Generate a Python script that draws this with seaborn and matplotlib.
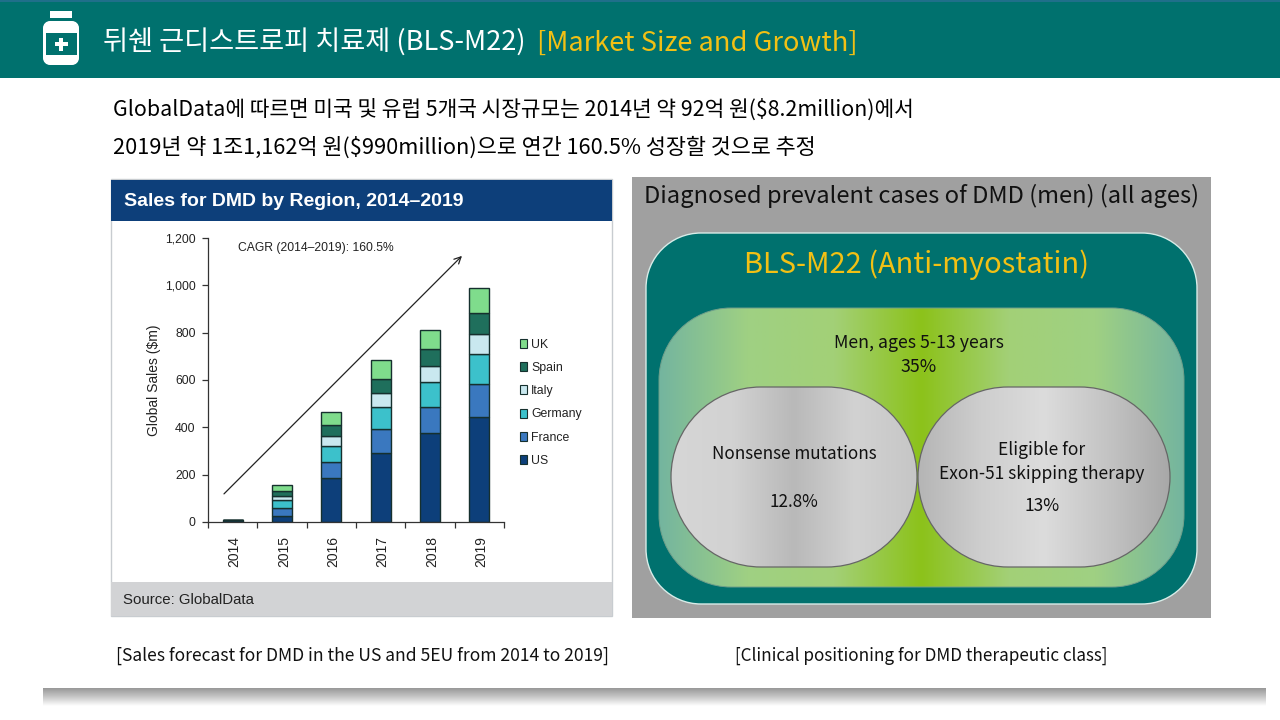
import matplotlib
matplotlib.use("Agg")
import matplotlib.pyplot as plt
import numpy as np
import pandas as pd
import seaborn as sb
from matplotlib.colors import LinearSegmentedColormap
from matplotlib.patches import Patch, PathPatch, Rectangle
from matplotlib.path import Path
from matplotlib.transforms import ScaledTranslation

years = ["2014", "2015", "2016", "2017", "2018", "2019"]
regions = ["US", "France", "Germany", "Italy", "Spain", "UK"]
us = [8, 27, 185, 293, 378, 444]
france = [0, 34, 69, 98, 110, 137]
germany = [0, 32, 69, 93, 104, 130]
italy = [0, 17, 42, 62, 69, 82]
spain = [0, 20, 44, 60, 69, 90]
uk = [0, 27, 56, 77, 82, 105]
region_colors = ["#0d3f7a", "#3a78bf", "#3cc1cb", "#c9e8ef", "#1f6f5c", "#7fdc8c"]

KR = ["Noto Sans CJK KR", "DejaVu Sans"]
ARIAL = ["Liberation Sans", "DejaVu Sans"]
TEAL = "#00716e"
GOLD = "#f2c014"

sb.set_theme(style="white")
plt.rcParams["font.family"] = KR

fig = plt.figure(figsize=(12.8, 7.2), dpi=100, facecolor="white")


def px_axes(x0, y0, x1, y1):
    # axes placed with picture pixels, y counted from the top
    return fig.add_axes([x0 / 1280, 1 - y1 / 720, (x1 - x0) / 1280, (y1 - y0) / 720])


bg = px_axes(0, 0, 1280, 720)
bg.set_xlim(0, 1280)
bg.set_ylim(720, 0)
bg.axis("off")


def rounded(x0, y0, x1, y1, r, **kw):
    # true circular corners, FancyBboxPatch corners come out too square
    k = r * (1 - 0.5523)
    verts = [(x0 + r, y0), (x1 - r, y0),
             (x1 - k, y0), (x1, y0 + k), (x1, y0 + r),
             (x1, y1 - r),
             (x1, y1 - k), (x1 - k, y1), (x1 - r, y1),
             (x0 + r, y1),
             (x0 + k, y1), (x0, y1 - k), (x0, y1 - r),
             (x0, y0 + r),
             (x0, y0 + k), (x0 + k, y0), (x0 + r, y0),
             (x0 + r, y0)]
    codes = [Path.MOVETO, Path.LINETO,
             Path.CURVE4, Path.CURVE4, Path.CURVE4,
             Path.LINETO,
             Path.CURVE4, Path.CURVE4, Path.CURVE4,
             Path.LINETO,
             Path.CURVE4, Path.CURVE4, Path.CURVE4,
             Path.LINETO,
             Path.CURVE4, Path.CURVE4, Path.CURVE4,
             Path.CLOSEPOLY]
    p = PathPatch(Path(verts, codes), **kw)
    bg.add_patch(p)
    return p


def h_gradient(x0, y0, x1, y1, r, colors, edge, lw=0.9):
    cmap = LinearSegmentedColormap.from_list("g", colors)
    im = bg.imshow(np.linspace(0, 1, 256).reshape(1, -1), cmap=cmap, aspect="auto",
                   extent=(x0, x1, y1, y0), zorder=3)
    p = rounded(x0, y0, x1, y1, r, fc="none", ec=edge, lw=lw, zorder=4)
    im.set_clip_path(p)


# header
bg.add_patch(Rectangle((0, 0), 1280, 78, fc=TEAL, ec="none"))
bg.add_patch(Rectangle((0, 0), 1280, 1.5, fc="#1f6f8a", ec="none"))
# bottle icon
bg.add_patch(Rectangle((50, 11), 22, 7, fc="white", ec="none"))
rounded(43, 21, 79, 65, 7, fc="white", ec="none")
bg.add_patch(Rectangle((45.5, 33), 31, 22, fc=TEAL, ec="none"))
bg.add_patch(Rectangle((54.5, 42), 13, 4, fc="white", ec="none"))
bg.add_patch(Rectangle((59, 37.5), 4, 13, fc="white", ec="none"))
bg.text(103, 43, "뒤쉔 근디스트로피 치료제 (BLS-M22)", color="white", fontsize=19.6, va="center", ha="left")
bg.text(537, 43, "[Market Size and Growth]", color=GOLD, fontsize=19.6, va="center", ha="left")

# intro lines
bg.text(113, 110, "GlobalData에 따르면 미국 및 유럽 5개국 시장규모는 2014년 약 92억 원($8.2million)에서",
        color="black", fontsize=15.4, va="center", ha="left")
bg.text(113, 148, "2019년 약 1조1,162억 원($990million)으로 연간 160.5% 성장할 것으로 추정",
        color="black", fontsize=15.7, va="center", ha="left")

# left picture frame
bg.add_patch(Rectangle((111, 179), 501, 437, fc="white", ec="#c8ccd0", lw=1))
bg.add_patch(Rectangle((111, 180), 501, 41, fc="#0d3f7a", ec="none"))
bg.add_patch(Rectangle((111, 582), 501, 34, fc="#d2d3d5", ec="none"))
bg.text(124, 201, "Sales for DMD by Region, 2014–2019", color="white", fontsize=14,
        fontweight="bold", family=ARIAL, va="center", ha="left")
bg.text(123, 600, "Source: GlobalData", color="#222222", fontsize=10.8, family=ARIAL,
        va="center", ha="left")

# right panel
bg.add_patch(Rectangle((632, 177), 579, 441, fc="#a0a0a0", ec="none"))
bg.text(921, 196, "Diagnosed prevalent cases of DMD (men) (all ages)", color="#111111",
        fontsize=17.1, va="center", ha="center")
rounded(646, 233, 1197, 604, 55, fc=TEAL, ec="#d8ece8", lw=1, zorder=2)
bg.text(917, 265, "BLS-M22 (Anti-myostatin)", color=GOLD, fontsize=20.9, va="center", ha="center", zorder=6)
h_gradient(659, 308, 1184, 587, 72,
           ["#74b59f", "#9fd083", "#a3d077", "#8cc21a", "#a3d077", "#9fd083", "#74b59f"], "#6f9f8a", lw=0.7)
h_gradient(671, 387, 917, 567, 90,
           ["#d6d6d6", "#d2d2d2", "#b9b9b9", "#d2d2d2", "#c6c6c6"], "#666666")
h_gradient(918, 387, 1170, 567, 90,
           ["#b5b5b5", "#cecece", "#dcdcdc", "#c4c4c4", "#a8a8a8"], "#666666")
inner = dict(color="#111111", va="center", ha="center", zorder=6)
bg.text(919, 343, "Men, ages 5-13 years", fontsize=12.8, **inner)
bg.text(919, 367, "35%", fontsize=12.8, **inner)
bg.text(794, 454, "Nonsense mutations", fontsize=12.3, **inner)
bg.text(794, 502, "12.8%", fontsize=12.3, **inner)
bg.text(1042, 450, "Eligible for", fontsize=12.5, **inner)
bg.text(1042, 474, "Exon-51 skipping therapy", fontsize=12.5, **inner)
bg.text(1042, 506, "13%", fontsize=12.5, **inner)

# captions
bg.text(362, 656, "[Sales forecast for DMD in the US and 5EU from 2014 to 2019]", color="#111111",
        fontsize=12.6, va="center", ha="center")
bg.text(921, 656, "[Clinical positioning for DMD therapeutic class]", color="#111111",
        fontsize=12.3, va="center", ha="center")

# bottom bar
cmap = LinearSegmentedColormap.from_list("b", ["#989898", "#c8c8c8", "#ffffff"])
bg.imshow(np.linspace(0, 1, 64).reshape(-1, 1), cmap=cmap, aspect="auto", extent=(43, 1266, 706, 688))
bg.set_xlim(0, 1280)
bg.set_ylim(720, 0)

# stacked bars
ax = px_axes(208, 238, 504, 522)
ax.patch.set_alpha(0)
series = [us, france, germany, italy, spain, uk]
bottom = np.zeros(len(years))
for name, vals, col in zip(regions, series, region_colors):
    df = pd.DataFrame({"year": years, "sales": vals})
    sb.barplot(data=df, x="year", y="sales", color=col, width=0.41, bottom=bottom, saturation=1,
               edgecolor="#16302e", linewidth=1, ax=ax)
    bottom = bottom + np.array(vals)

ax.set_xlim(-0.5, 5.5)
ax.set_ylim(0, 1200)
ax.set_yticks(range(0, 1201, 200))
ax.set_yticklabels(["0", "200", "400", "600", "800", "1,000", "1,200"], family=ARIAL, fontsize=8.8, color="#222222")
ax.set_xticks(range(6))
ax.set_xticklabels(years, rotation=90, family=ARIAL, fontsize=10, color="#222222")
ax.set_xticks(np.arange(-0.5, 6), minor=True)
ax.tick_params(axis="x", which="major", length=0, pad=10)
ax.tick_params(axis="x", which="minor", length=4, width=0.9, color="#333333", bottom=True)
ax.tick_params(axis="y", length=4, width=0.9, color="#333333", left=True, pad=5)
# rotated years sit 2px right of the bar centres
shift = ScaledTranslation(2 / 100, 0, fig.dpi_scale_trans)
for lab in ax.get_xticklabels():
    lab.set_transform(lab.get_transform() + shift)
ax.set_xlabel("")
ax.set_ylabel("Global Sales ($m)", family=ARIAL, fontsize=10, color="#222222", labelpad=3)
sb.despine(ax=ax)
for side in ("left", "bottom"):
    ax.spines[side].set_color("#333333")
    ax.spines[side].set_linewidth(0.9)

ax.text(0.1, 0.965, "CAGR (2014–2019): 160.5%", transform=ax.transAxes, family=ARIAL, fontsize=8.7,
        color="#222222", va="center", ha="left")
ax.annotate("", xy=(0.858, 0.937), xytext=(0.054, 0.099), xycoords="axes fraction",
            arrowprops=dict(arrowstyle="->", color="#222222", lw=0.9, shrinkA=0, shrinkB=0))

handles = [Patch(fc=c, ec="#16302e", lw=0.8) for c in region_colors[::-1]]
leg = ax.legend(handles, regions[::-1], loc="center left", bbox_to_anchor=(1.017, 0.42), frameon=False,
                handlelength=0.6, handleheight=0.75, handletextpad=0.3, labelspacing=0.92,
                prop={"family": ARIAL, "size": 8.8})
for t in leg.get_texts():
    t.set_color("#222222")

fig.savefig("out.png", dpi=100)
